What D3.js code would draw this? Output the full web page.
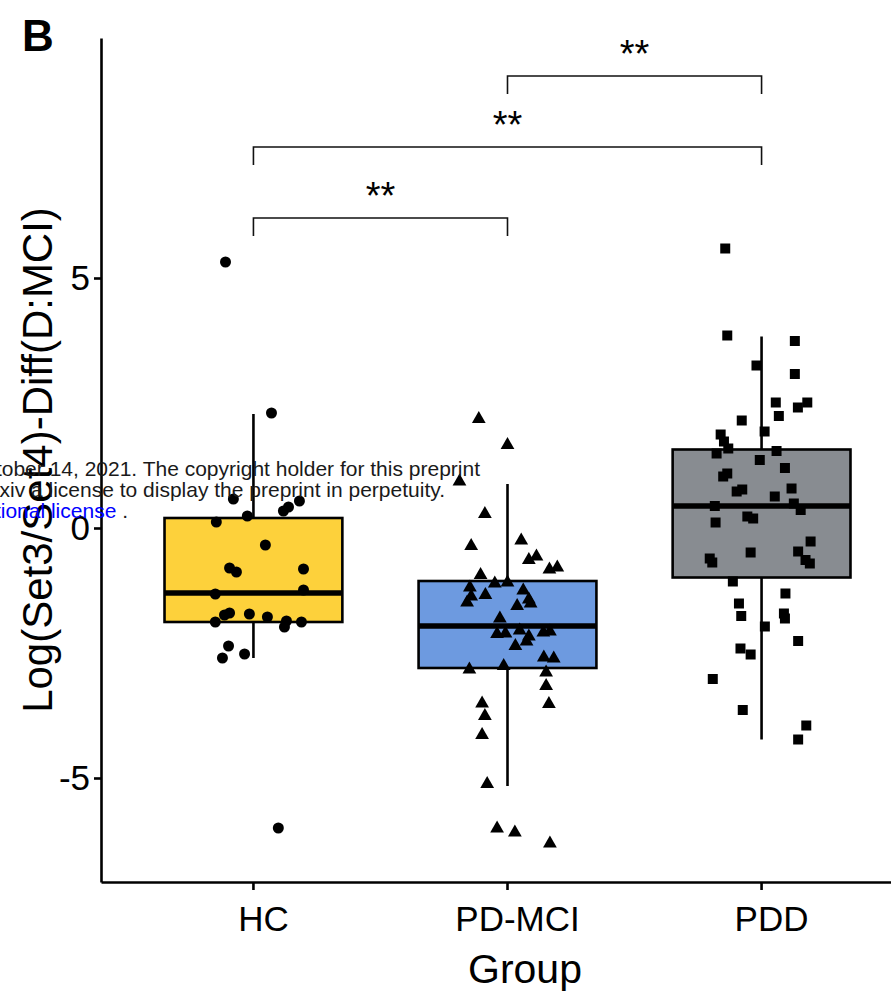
<!DOCTYPE html>
<html><head><meta charset="utf-8">
<script src="https://cdn.jsdelivr.net/npm/d3@7"></script>
<style>body{margin:0;background:#fff;} svg{display:block;}</style>
</head><body>
<svg id="chart" width="891" height="999"></svg>
<script>
// ---------- data ----------
const categories = ["HC", "PD-MCI", "PDD"];
const boxColors = ["#FDD13B", "#6D9AE0", "#888C91"];
const yTicks = [-5, 0, 5];

const hcValues = [5.32, 2.30, 0.58, 0.24, 0.12, -0.34, 0.34, 0.42, 0.54, -0.80, -0.88, -0.82, -1.24,
  -1.32, -1.74, -1.70, -1.72, -1.78, -1.86, -1.98, -1.88, -1.88, -2.36, -2.60, -2.52, -6.00];
const hcJitter = [-0.110, 0.071, -0.079, -0.024, -0.146, 0.047, 0.118, 0.138, 0.181, -0.094, -0.067, 0.197, 0.197,
  -0.150, -0.114, -0.094, -0.016, 0.055, 0.130, 0.122, 0.189, -0.150, -0.098, -0.122, -0.035, 0.098];

const pdmciValues = [2.18, 1.66, 0.93, 0.28, -0.36, -0.25, -0.64, -0.57, -0.83, -0.79, -0.94, -1.11, -1.09,
  -1.19, -1.25, -1.34, -1.37, -1.49, -1.43, -1.51, -1.56, -1.81, -2.12, -2.11, -2.05, -2.17, -2.27, -2.09,
  -2.07, -2.36, -2.59, -2.61, -2.83, -2.76, -2.89, -3.16, -3.51, -3.52, -3.76, -4.14, -5.12, -6.01, -6.09, -6.31];
const pdmciJitter = [-0.113, 0.000, -0.189, -0.089, -0.143, 0.054, 0.084, 0.114, 0.165, 0.196, -0.106, -0.050, 0.000,
  -0.148, 0.062, -0.087, -0.143, -0.159, 0.084, 0.091, 0.038, -0.030, -0.041, -0.008, 0.048, 0.084, 0.075, 0.141,
  0.167, 0.031, 0.143, 0.182, -0.150, -0.015, 0.152, 0.152, -0.100, 0.163, -0.089, -0.100, -0.080, -0.041, 0.029, 0.167];

const pddValues = [5.59, 3.85, 3.74, 3.25, 3.08, 2.51, 2.51, 2.41, 2.24, 2.15, 1.93, 1.87, 1.73, 1.59, 1.49,
  1.54, 1.36, 1.20, 1.09, 1.03, 0.73, 0.77, 0.79, 0.63, 0.44, 0.49, 0.36, 0.23, 0.19, 0.11, -0.27, -0.47,
  -0.49, -0.61, -0.69, -0.64, -0.71, -1.07, -1.31, -1.51, -1.76, -1.71, -1.81, -1.97, -2.26, -2.41, -2.53,
  -3.02, -3.64, -3.95, -4.23];
const pddJitter = [-0.143, -0.135, 0.131, -0.020, 0.131, 0.056, 0.180, 0.143, 0.068, -0.078, 0.012, -0.161, -0.148,
  -0.131, -0.177, 0.059, -0.007, 0.092, -0.135, -0.151, -0.098, -0.076, 0.118, 0.052, -0.184, 0.127, 0.154,
  -0.056, -0.033, -0.181, 0.193, 0.144, -0.043, -0.204, -0.194, 0.173, 0.190, -0.113, 0.094, -0.089, -0.080,
  0.088, 0.092, 0.013, 0.144, -0.083, -0.043, -0.192, -0.074, 0.176, 0.144];

// box statistics
const boxQ1 = [-1.88, -2.80, -0.99];
const boxMedian = [-1.30, -1.96, 0.44];
const boxQ3 = [0.20, -1.06, 1.57];
const whiskerLow = [-2.60, -5.16, -4.23];
const whiskerHigh = [2.28, 0.88, 3.83];

const bracketFrom = ["PD-MCI", "HC", "HC"];
const bracketTo = ["PDD", "PDD", "PD-MCI"];
const bracketY = [9.04, 7.62, 6.20];
const bracketLabels = ["**", "**", "**"];

const watermarkLines = [
  "October 14, 2021. The copyright holder for this preprint",
  "bioRxiv a license to display the preprint in perpetuity."
];
const watermarkLink = "International license";

// ---------- layout ----------
const panel = {left: 101, right: 914, top: 38, bottom: 882};
const font = "'Liberation Sans', Arial, Helvetica, sans-serif";
const svg = d3.select("#chart");

const x = d3.scaleBand().domain(categories)
  .range([panel.left, panel.right]).paddingInner(0.3).paddingOuter(0.25);
const y = d3.scaleLinear().domain([-7.08, 9.8]).range([panel.bottom, panel.top]);
const cx = c => x(c) + x.bandwidth() / 2;

const groups = [
  {cat: "HC", values: hcValues, jitter: hcJitter, shape: d3.symbolCircle, size: 95},
  {cat: "PD-MCI", values: pdmciValues, jitter: pdmciJitter, shape: d3.symbolTriangle, size: 82},
  {cat: "PDD", values: pddValues, jitter: pddJitter, shape: d3.symbolSquare, size: 100}
];

const lw = 2.6;
// boxes
const gBox = svg.append("g");
categories.forEach((c, i) => {
  const g = gBox.append("g");
  g.append("line").attr("x1", cx(c)).attr("x2", cx(c))
    .attr("y1", y(whiskerHigh[i])).attr("y2", y(boxQ3[i]))
    .attr("stroke", "#000").attr("stroke-width", lw);
  g.append("line").attr("x1", cx(c)).attr("x2", cx(c))
    .attr("y1", y(boxQ1[i])).attr("y2", y(whiskerLow[i]))
    .attr("stroke", "#000").attr("stroke-width", lw);
  g.append("rect").attr("x", x(c)).attr("width", x.bandwidth())
    .attr("y", y(boxQ3[i])).attr("height", y(boxQ1[i]) - y(boxQ3[i]))
    .attr("fill", boxColors[i]).attr("stroke", "#000").attr("stroke-width", lw);
  g.append("line").attr("x1", x(c)).attr("x2", x(c) + x.bandwidth())
    .attr("y1", y(boxMedian[i])).attr("y2", y(boxMedian[i]))
    .attr("stroke", "#000").attr("stroke-width", lw * 2.1);
});

// points
const gPts = svg.append("g");
groups.forEach(gr => {
  const sym = d3.symbol().type(gr.shape).size(gr.size);
  gPts.selectAll(null).data(gr.values).join("path")
    .attr("d", sym)
    .attr("transform", (v, k) => `translate(${cx(gr.cat) + gr.jitter[k] * x.step()},${y(v)})`)
    .attr("fill", "#000");
});

// significance brackets
const gBr = svg.append("g");
const tickLen = 0.36;
bracketY.forEach((by, i) => {
  const x1 = cx(bracketFrom[i]), x2 = cx(bracketTo[i]);
  gBr.append("path")
    .attr("d", `M${x1},${y(by - tickLen)}V${y(by)}H${x2}V${y(by - tickLen)}`)
    .attr("fill", "none").attr("stroke", "#111").attr("stroke-width", 1.6);
  gBr.append("text").attr("x", (x1 + x2) / 2).attr("y", y(by) - 9)
    .attr("text-anchor", "middle").attr("font-family", font).attr("font-size", 38)
    .attr("fill", "#000").text(bracketLabels[i]);
});

// axes
const yAxis = svg.append("g").attr("transform", `translate(${panel.left},0)`)
  .call(d3.axisLeft(y).tickValues(yTicks).tickFormat(d => String(d))
    .tickSize(7).tickSizeOuter(0).tickPadding(4));
const xAxis = svg.append("g").attr("transform", `translate(0,${panel.bottom})`)
  .call(d3.axisBottom(x).tickSize(8).tickSizeOuter(0).tickPadding(16));
[yAxis, xAxis].forEach(a => {
  a.selectAll("path,line").attr("stroke", "#000").attr("stroke-width", lw);
  a.selectAll("text").attr("font-family", font).attr("font-size", 35).attr("fill", "#000");
});
xAxis.selectAll("text").attr("dx", 10);

// axis titles
svg.append("text").attr("x", 525).attr("y", 983)
  .attr("text-anchor", "middle").attr("font-family", font).attr("font-size", 41)
  .attr("fill", "#000").text("Group");
svg.append("text").attr("transform", `translate(52,${(panel.top + panel.bottom) / 2}) rotate(-90)`)
  .attr("text-anchor", "middle").attr("font-family", font).attr("font-size", 42)
  .attr("fill", "#000").text("Log(Set3/Set4)-Diff(D:MCI)");

// panel tag
svg.append("text").attr("x", 22).attr("y", 51).attr("font-family", font)
  .attr("font-size", 44).attr("font-weight", "bold").attr("fill", "#000").text("B");

// overlay watermark text
const wm = svg.append("g").attr("font-family", font).attr("font-size", 21).attr("fill", "#1a1a1a");
wm.append("text").attr("x", 480).attr("y", 476).attr("text-anchor", "end").text(watermarkLines[0]);
wm.append("text").attr("x", 445).attr("y", 497).attr("text-anchor", "end").text(watermarkLines[1]);
const t3 = wm.append("text").attr("x", 128).attr("y", 518).attr("text-anchor", "end");
t3.append("tspan").attr("fill", "#0000ff").text(watermarkLink);
t3.append("tspan").text(" .");
</script>
</body></html>
